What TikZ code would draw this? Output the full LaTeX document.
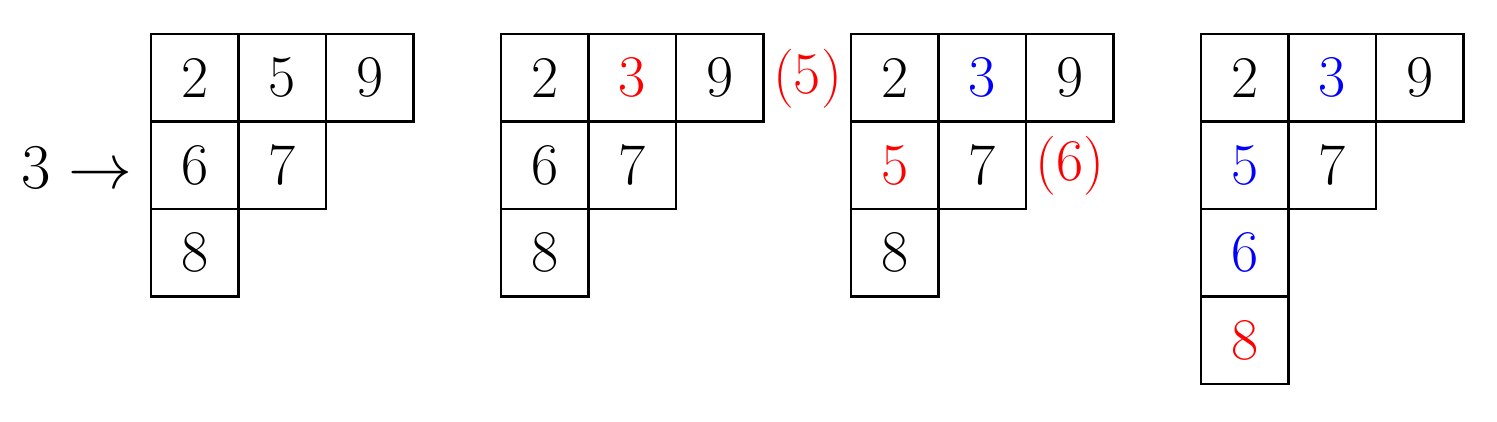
\documentclass[tikz,border=0pt]{standalone}
\usepackage{fontspec}
\begin{document}
\begin{tikzpicture}[x=0.0114286cm,y=-0.0114286cm,
  every node/.style={font=\fontsize{19.2}{23}\selectfont},
  cell/.style={draw,line width=0.7pt,minimum size=1cm,inner sep=0pt,outer sep=0pt},
  plain/.style={inner sep=0pt},
  hl/.style={text=red},
  fix/.style={text=blue}]
\useasboundingbox (0,0) rectangle (1497,422);
% tableau A
\node[cell] (a00) at (194.75,77.75) {2};
\node[cell] (a01) at (282.25,77.75) {5};
\node[cell] (a02) at (369.75,77.75) {9};
\node[cell] (a10) at (194.75,165.25) {6};
\node[cell] (a11) at (282.25,165.25) {7};
\node[cell] (a20) at (194.75,252.75) {8};
\node[plain] (ins) at (76.5,168) {$3\rightarrow$};
% tableau B
\node[cell] (b00) at (544.75,77.75) {2};
\node[cell,hl] (b01) at (632.25,77.75) {3};
\node[cell] (b02) at (719.75,77.75) {9};
\node[cell] (b10) at (544.75,165.25) {6};
\node[cell] (b11) at (632.25,165.25) {7};
\node[cell] (b20) at (544.75,252.75) {8};
\node[plain,hl] (bump5) at (807.5,78.5) {(5)};
% tableau C
\node[cell] (c00) at (894.75,77.75) {2};
\node[cell,fix] (c01) at (982.25,77.75) {3};
\node[cell] (c02) at (1069.75,77.75) {9};
\node[cell,hl] (c10) at (894.75,165.25) {5};
\node[cell] (c11) at (982.25,165.25) {7};
\node[cell] (c20) at (894.75,252.75) {8};
\node[plain,hl] (bump6) at (1069.75,165.7) {(6)};
% tableau D
\node[cell] (d00) at (1244.75,77.75) {2};
\node[cell,fix] (d01) at (1332.25,77.75) {3};
\node[cell] (d02) at (1419.75,77.75) {9};
\node[cell,fix] (d10) at (1244.75,165.25) {5};
\node[cell] (d11) at (1332.25,165.25) {7};
\node[cell,fix] (d20) at (1244.75,252.75) {6};
\node[cell,hl] (d30) at (1244.75,340.25) {8};
\end{tikzpicture}
\end{document}
